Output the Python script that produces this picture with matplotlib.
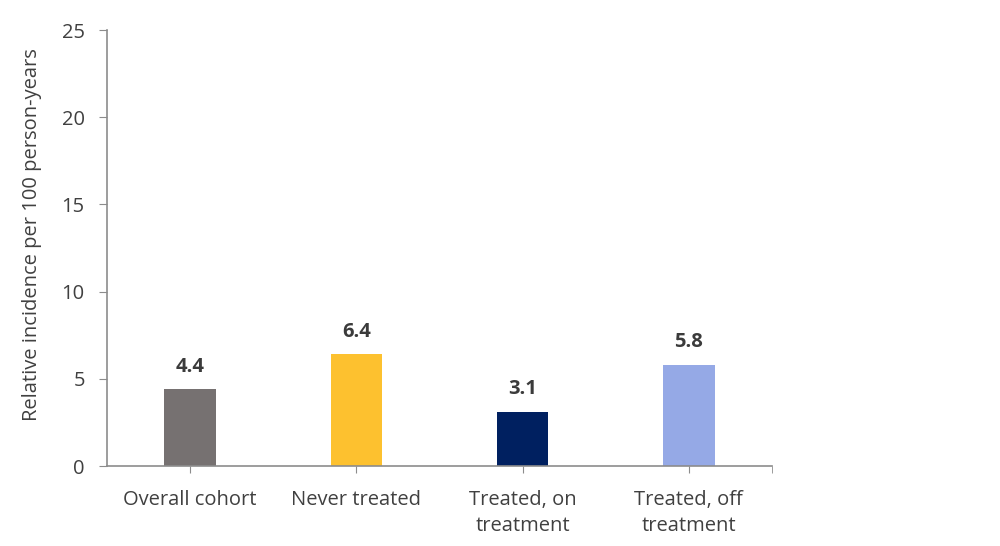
import matplotlib.pyplot as plt
from matplotlib.ticker import FixedLocator

# Data
categorias = ['Overall cohort', 'Never treated', 'Treated, on\ntreatment', 'Treated, off\ntreatment']
incidencia = [4.4, 6.4, 3.1, 5.8]
cores = ['#767171', '#FDC12F', '#002060', '#95A9E6']
y_ticks = [0, 5, 10, 15, 20, 25]

plt.rcParams['font.family'] = ['Open Sans', 'DejaVu Sans']

fig = plt.figure(figsize=(10, 5.46), dpi=100)
ax = fig.add_axes([0.107, 0.1465, 0.665, 0.7985])

x = range(len(categorias))
bars = ax.bar(x, incidencia, width=0.31, color=cores)

for b, v in zip(bars, incidencia):
    ax.annotate(f'{v:.1f}', (b.get_x() + b.get_width() / 2, v),
                xytext=(0, 9), textcoords='offset points',
                ha='center', va='bottom', fontsize=14.5, fontweight='bold', color='#3B3B3B')

ax.set_xlim(-0.5, 3.5)
ax.set_ylim(0, 25)
ax.set_yticks(y_ticks)
ax.set_xticks(list(x))
ax.set_xticklabels(categorias, linespacing=1.45)
ax.xaxis.set_minor_locator(FixedLocator([3.5]))

ax.set_ylabel('Relative incidence per 100 person-years', fontsize=14.5, color='#404040')
ax.yaxis.set_label_coords(-0.097, 0.53)

for s in ['top', 'right']:
    ax.spines[s].set_visible(False)
for s in ['left', 'bottom']:
    ax.spines[s].set_color('#8C8C8C')
    ax.spines[s].set_linewidth(1.2)

ax.tick_params(axis='y', length=6, color='#8C8C8C', labelsize=14.5, labelcolor='#404040', pad=10)
ax.tick_params(axis='x', which='both', length=5, color='#8C8C8C', labelsize=14.5, labelcolor='#404040', pad=12)

fig.savefig('out.png', dpi=100)
